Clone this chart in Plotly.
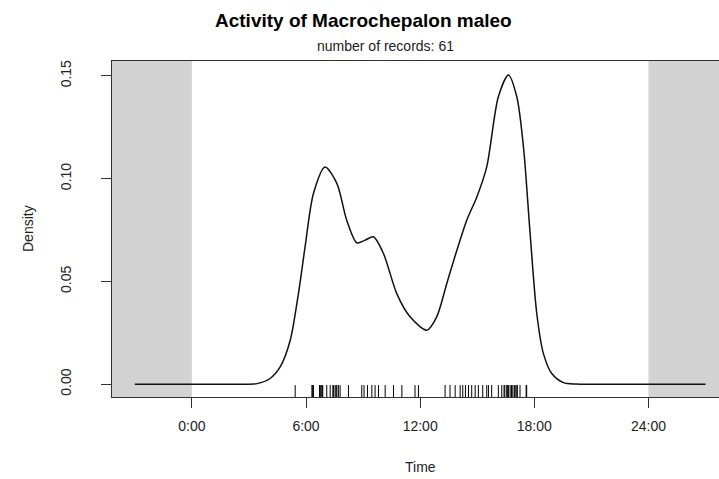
import plotly.graph_objects as go

# density curve (hours, density)
curve_hours = [-3.0, 0.0, 2.0, 2.54, 3.42, 4.11, 4.64, 5.17, 5.60, 5.95, 6.39, 7.00, 7.62, 8.14,
               8.67, 9.11, 9.54, 10.07, 10.77, 11.47, 12.35, 12.87, 13.40, 13.93, 14.45,
               14.98, 15.50, 16.11, 16.64, 17.08, 17.43, 17.78, 18.13, 18.48, 18.92, 19.53,
               20.2, 21.0, 22.0, 24.0, 27.0]
curve_density = [0.0, 0.0, 0.0, 0.0, 0.0003, 0.0028, 0.0084, 0.0214, 0.0441, 0.0668, 0.0928,
                 0.1057, 0.0977, 0.0798, 0.0688, 0.0701, 0.0717, 0.0636, 0.0441, 0.0328,
                 0.0263, 0.0328, 0.0490, 0.0652, 0.0798, 0.0911, 0.1057, 0.1398, 0.1504,
                 0.1398, 0.1155, 0.0733, 0.0344, 0.0149, 0.0052, 0.0008, 0.0001, 0.0, 0.0,
                 0.0, 0.0]

# record times (hours) for the rug
records = [5.43, 6.31, 6.35, 6.39, 6.71, 6.75, 6.80, 6.85, 6.88, 7.09, 7.27, 7.41, 7.45, 7.53,
           7.58, 7.62, 7.70, 7.79, 8.23, 8.93, 9.05, 9.23, 9.46, 9.63, 9.81, 10.16, 10.60,
           11.04, 11.73, 11.91, 13.31, 13.57, 13.84, 14.10, 14.24, 14.38, 14.54, 14.71,
           14.89, 15.06, 15.29, 15.50, 15.59, 15.76, 16.11, 16.29, 16.41, 16.45, 16.55,
           16.60, 16.64, 16.73, 16.80, 16.87, 16.95, 16.99, 17.05, 17.11, 17.25, 17.57, 17.60]

x_tick_vals = [0, 6, 12, 18, 24]
x_tick_text = ["0:00", "6:00", "12:00", "18:00", "24:00"]
y_tick_vals = [0.0, 0.05, 0.10, 0.15]
y_tick_text = ["0.00", "0.05", "0.10", "0.15"]

XR = [-4.2, 27.71]
YR = [-0.0062, 0.1572]

rug_x, rug_y = [], []
for r in records:
    rug_x += [r, r, None]
    rug_y += [YR[0], -0.0004, None]

FONT = "Liberation Sans"
L, T, B = 112, 61, 82
PW, PH = 719 - L, 479 - T - B

fig = go.Figure()
fig.add_trace(go.Scatter(x=rug_x, y=rug_y, mode="lines",
                         line=dict(color="black", width=1), hoverinfo="skip"))
fig.add_trace(go.Scatter(x=curve_hours, y=curve_density, mode="lines",
                         line=dict(color="#111111", width=1.5, shape="spline", smoothing=0.8)))

fig.add_shape(type="rect", xref="x", yref="paper", x0=XR[0], x1=0, y0=0, y1=1,
              fillcolor="#d3d3d3", line=dict(width=0), layer="below")
fig.add_shape(type="rect", xref="x", yref="paper", x0=24, x1=XR[1], y0=0, y1=1,
              fillcolor="#d3d3d3", line=dict(width=0), layer="below")

fig.update_layout(
    width=719, height=479,
    margin=dict(l=L, r=0, t=T, b=B),
    paper_bgcolor="white", plot_bgcolor="white",
    showlegend=False,
    font=dict(family=FONT, color="#222222", size=13),
    xaxis=dict(range=XR, tickvals=x_tick_vals, ticktext=x_tick_text,
               showgrid=False, zeroline=False, showline=True, mirror=True,
               linecolor="#333333", linewidth=1, ticks="outside", ticklen=10,
               tickcolor="#333333", tickfont=dict(size=14, family=FONT, color="#222222"),
               ticklabelstandoff=6),
    yaxis=dict(range=YR, tickvals=y_tick_vals, ticktext=y_tick_text,
               showgrid=False, zeroline=False, showline=True, mirror=False,
               linecolor="#333333", linewidth=1, ticks="outside", ticklen=10,
               tickcolor="#333333", tickangle=-90,
               tickfont=dict(size=14, family=FONT, color="#222222"),
               ticklabelstandoff=24),
    annotations=[
        dict(text="<b>Activity of Macrochepalon maleo</b>", xref="paper", yref="paper",
             x=(363 - L) / PW, y=1 + (T - 21) / PH, xanchor="center", yanchor="middle",
             showarrow=False, font=dict(size=19, family=FONT, color="black")),
        dict(text="number of records: 61", xref="paper", yref="paper",
             x=(385 - L) / PW, y=1 + (T - 46) / PH, xanchor="center", yanchor="middle",
             showarrow=False, font=dict(size=14, family=FONT, color="#222222")),
        dict(text="Time", xref="paper", yref="paper",
             x=(420 - L) / PW, y=-(467 - (T + PH)) / PH, xanchor="center", yanchor="middle",
             showarrow=False, font=dict(size=14, family=FONT, color="#222222")),
        dict(text="Density", xref="paper", yref="paper", textangle=-90,
             x=-(L - 28) / PW, y=0.5, xanchor="center", yanchor="middle",
             showarrow=False, font=dict(size=14, family=FONT, color="#222222")),
    ],
)

fig.write_html("out.html", config={"displayModeBar": False},
               post_script="document.body.style.margin='0px';")
